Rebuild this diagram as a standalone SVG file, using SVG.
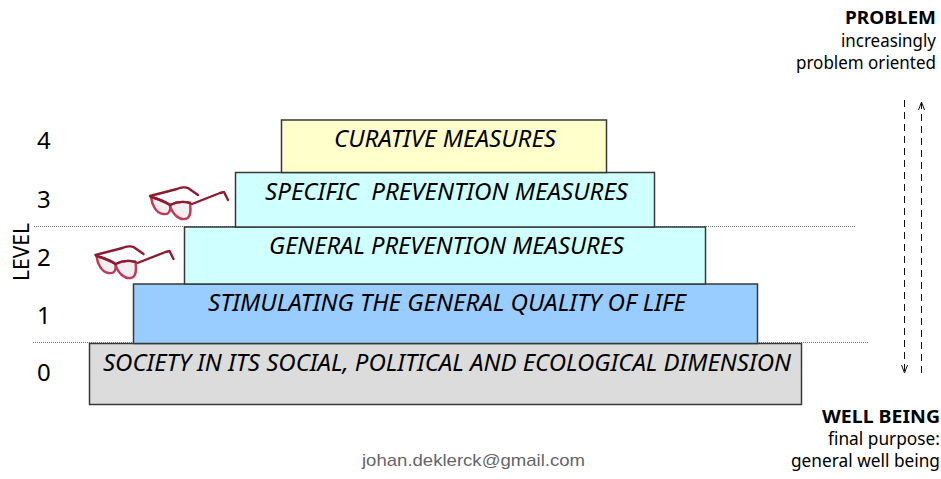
<svg xmlns="http://www.w3.org/2000/svg" width="941" height="479" viewBox="0 0 941 479">
<style>
text{font-family:"Noto Sans","DejaVu Sans",sans-serif;fill:#000}
.m{font-size:23.500px;font-style:italic}
.n{font-size:24px}
.s{font-size:17.500px}
.b{font-weight:bold}
.box{stroke:#383838;stroke-width:1.5}
.dot{stroke:#777;stroke-width:1;stroke-dasharray:1 1;fill:none}
.dash{stroke:#111;stroke-width:1;stroke-dasharray:7 5;fill:none}
.head{stroke:#111;stroke-width:1;fill:none}
.arm{stroke:#8c1c30;stroke-width:2.400;fill:none;stroke-linecap:round;stroke-linejoin:round}
.lens{fill:#f3eff0;stroke:#c03a58;stroke-width:2.400}
</style>
<defs>
<g id="glasses">
<path class="lens" d="M1 8C2 16 6 24 13 25C19 26 21 22 20 16C14 12 8 10 1 8Z"/>
<path class="lens" d="M20 16C22 25 29 31 35 30C41 29 41 22 40 14C33 12 26 13 20 16Z"/>
<path class="arm" d="M0 7L27 0C31 -2 36 -2 38 -1L48 6"/>
<path class="arm" d="M1 8C8 10 14 12 20 16C26 13 33 12 40 14" stroke-width="1.600"/>
<path class="arm" d="M42 15L70 4L74 3L78 11"/>
</g>
</defs>
<g id="guides">
<path class="dot" d="M34 226.500H855"/>
<path class="dot" d="M33 342.500H868"/>
</g>
<g id="node-society"><rect class="box" x="89.500" y="343.500" width="712" height="61" fill="#dcdcdc"/><text class="m" x="103" y="371" textLength="688" lengthAdjust="spacingAndGlyphs">SOCIETY IN ITS SOCIAL, POLITICAL AND ECOLOGICAL DIMENSION</text></g>
<g id="node-quality"><rect class="box" x="133.500" y="284" width="624" height="59.500" fill="#99ccff"/><text class="m" x="208" y="311" textLength="478" lengthAdjust="spacingAndGlyphs">STIMULATING THE GENERAL QUALITY OF LIFE</text></g>
<g id="node-general"><rect class="box" x="184.500" y="227" width="521" height="57" fill="#d0ffff"/><text class="m" x="269" y="254" textLength="355" lengthAdjust="spacingAndGlyphs">GENERAL PREVENTION MEASURES</text></g>
<g id="node-specific"><rect class="box" x="235.500" y="172.500" width="419" height="54.500" fill="#d0ffff"/><text class="m" x="265" y="200" textLength="363" lengthAdjust="spacingAndGlyphs" xml:space="preserve">SPECIFIC  PREVENTION MEASURES</text></g>
<g id="node-curative"><rect class="box" x="281.500" y="120" width="325" height="52.500" fill="#ffffcc"/><text class="m" x="334" y="147" textLength="222" lengthAdjust="spacingAndGlyphs">CURATIVE MEASURES</text></g>
<g id="levels">
<text class="n" x="37" y="149">4</text>
<text class="n" x="37" y="208">3</text>
<text class="n" x="37" y="266">2</text>
<text class="n" x="37" y="324">1</text>
<text class="n" x="37" y="381">0</text>
<text transform="translate(29 281) rotate(-90)" font-size="21" textLength="58" lengthAdjust="spacingAndGlyphs">LEVEL</text>
</g>
<g id="glasses-3"><use href="#glasses" x="150" y="189"/></g>
<g id="glasses-2"><use href="#glasses" x="95.500" y="248"/></g>
<g id="connectors">
<path class="dash" d="M904.500 100V372"/>
<path class="head" d="M901.500 365L904.500 373L907.500 365"/>
<path class="dash" d="M921.500 373V103"/>
<path class="head" d="M918.500 110L921.500 102L924.500 110"/>
</g>
<g id="label-problem">
<text class="s b" x="845" y="24" textLength="91" lengthAdjust="spacingAndGlyphs">PROBLEM</text>
<text class="s" x="841" y="47" textLength="95" lengthAdjust="spacingAndGlyphs">increasingly</text>
<text class="s" x="796" y="69" textLength="140" lengthAdjust="spacingAndGlyphs">problem oriented</text>
</g>
<g id="label-wellbeing">
<text class="s b" x="822" y="423" textLength="118" lengthAdjust="spacingAndGlyphs">WELL BEING</text>
<text class="s" x="828" y="445" textLength="112" lengthAdjust="spacingAndGlyphs">final purpose:</text>
<text class="s" x="791" y="467" textLength="149" lengthAdjust="spacingAndGlyphs">general well being</text>
</g>
<text id="email" x="362" y="466" style="font-family:'Liberation Sans',sans-serif;fill:#666" font-size="17" textLength="223" lengthAdjust="spacingAndGlyphs">johan.deklerck@gmail.com</text>
</svg>
